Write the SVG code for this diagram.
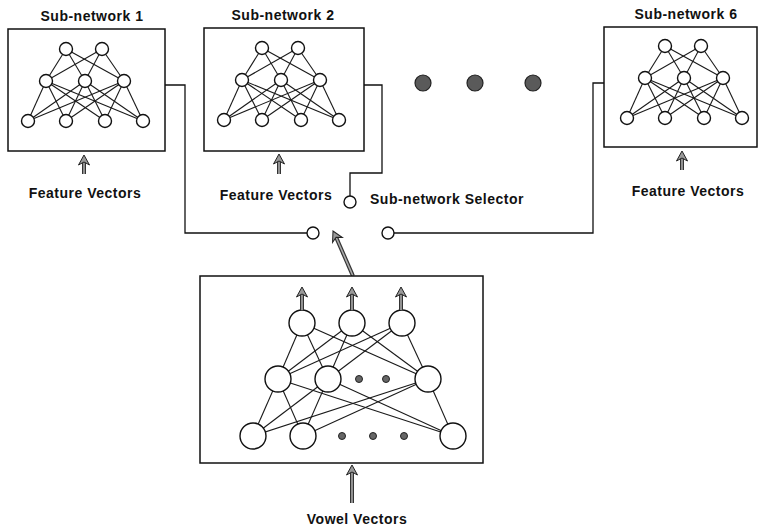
<svg xmlns="http://www.w3.org/2000/svg" width="761" height="529" viewBox="0 0 761 529">
  <style>
    .box { fill: #fff; stroke: #111; stroke-width: 1.5; }
    .edge { stroke: #1a1a1a; stroke-width: 1.1; fill: none; }
    .unit { fill: #fff; stroke: #111; stroke-width: 1.4; }
    .wire { fill: none; stroke: #111; stroke-width: 1.3; }
    .pin { fill: #fff; stroke: #111; stroke-width: 1.4; }
    .dot { fill: #666; stroke: #222; stroke-width: 1; }
    .big-dot { fill: #5a5a5a; stroke: #222; stroke-width: 1.2; }
    .shaft { stroke: #333; stroke-width: 4; }
    .shaft-in { stroke: #aaa; stroke-width: 1.6; }
    text { font-family: "Liberation Sans", Arial, sans-serif; font-size: 14px; font-weight: bold; letter-spacing: 0.5px; fill: #111; }
  </style>
  <defs>
    <marker id="head" viewBox="-11 -7 13 14" refX="0" refY="0" markerWidth="13" markerHeight="14" orient="auto" markerUnits="userSpaceOnUse">
      <path d="M0,0 L-10,-5.5 L-7,0 L-10,5.5 Z" fill="#999" stroke="#222" stroke-width="1"/>
    </marker>
    <!-- small 2-3-4 feed-forward net, drawn at the first sub-network's position -->
    <g id="smallnet">
      <g class="edge">
        <line x1="66" y1="49" x2="46" y2="81"/><line x1="66" y1="49" x2="85" y2="81"/><line x1="66" y1="49" x2="124" y2="81"/>
        <line x1="102" y1="49" x2="46" y2="81"/><line x1="102" y1="49" x2="85" y2="81"/><line x1="102" y1="49" x2="124" y2="81"/>
        <line x1="46" y1="81" x2="28" y2="121"/><line x1="46" y1="81" x2="66" y2="121"/><line x1="46" y1="81" x2="105" y2="121"/><line x1="46" y1="81" x2="143" y2="121"/>
        <line x1="85" y1="81" x2="28" y2="121"/><line x1="85" y1="81" x2="66" y2="121"/><line x1="85" y1="81" x2="105" y2="121"/><line x1="85" y1="81" x2="143" y2="121"/>
        <line x1="124" y1="81" x2="28" y2="121"/><line x1="124" y1="81" x2="66" y2="121"/><line x1="124" y1="81" x2="105" y2="121"/><line x1="124" y1="81" x2="143" y2="121"/>
      </g>
      <g class="unit">
        <circle cx="66" cy="49" r="6.5"/><circle cx="102" cy="49" r="6.5"/>
        <circle cx="46" cy="81" r="6.5"/><circle cx="85" cy="81" r="6.5"/><circle cx="124" cy="81" r="6.5"/>
        <circle cx="28" cy="121" r="6.5"/><circle cx="66" cy="121" r="6.5"/><circle cx="105" cy="121" r="6.5"/><circle cx="143" cy="121" r="6.5"/>
      </g>
    </g>
  </defs>

  <rect width="761" height="529" fill="#fff"/>

  <!-- connectors: sub-network outputs routed to the selector contacts -->
  <g id="connectors">
    <path class="wire" d="M165,85 H185 V233 H307"/>
    <path class="wire" d="M364,85 H382 V173 H350 V196"/>
    <path class="wire" d="M604,83 H593 V233 H394"/>
    <circle class="pin" cx="313" cy="233" r="6"/>
    <circle class="pin" cx="350" cy="202" r="6"/>
    <circle class="pin" cx="388" cy="233" r="6"/>
    <!-- selector arm driven by the vowel classifier -->
    <line class="shaft" x1="353" y1="276" x2="336" y2="237"/>
    <line class="shaft-in" x1="353" y1="276" x2="336" y2="237"/>
    <line x1="336" y1="237" x2="333" y2="231" stroke="none" marker-end="url(#head)"/>
  </g>

  <g id="subnet1">
    <text x="92" y="21" text-anchor="middle">Sub-network 1</text>
    <rect class="box" x="8" y="29" width="157" height="122"/>
    <use href="#smallnet"/>
    <line class="shaft" x1="84" y1="174" x2="84" y2="161"/>
    <line class="shaft-in" x1="84" y1="174" x2="84" y2="161"/>
    <line x1="84" y1="161" x2="84" y2="155" stroke="none" marker-end="url(#head)"/>
    <text x="85" y="198" text-anchor="middle">Feature Vectors</text>
  </g>

  <g id="subnet2">
    <text x="283" y="20" text-anchor="middle">Sub-network 2</text>
    <rect class="box" x="204" y="28" width="160" height="123"/>
    <use href="#smallnet" transform="translate(196,-1)"/>
    <line class="shaft" x1="279" y1="174" x2="279" y2="160"/>
    <line class="shaft-in" x1="279" y1="174" x2="279" y2="160"/>
    <line x1="279" y1="160" x2="279" y2="154" stroke="none" marker-end="url(#head)"/>
    <text x="276" y="200" text-anchor="middle">Feature Vectors</text>
  </g>

  <g id="ellipsis">
    <circle class="big-dot" cx="423" cy="83" r="8"/>
    <circle class="big-dot" cx="475" cy="83" r="8"/>
    <circle class="big-dot" cx="533" cy="83" r="8"/>
  </g>

  <g id="subnet6">
    <text x="686" y="19" text-anchor="middle">Sub-network 6</text>
    <rect class="box" x="604" y="27" width="153" height="120"/>
    <use href="#smallnet" transform="translate(599,-3)"/>
    <line class="shaft" x1="682" y1="170" x2="682" y2="157"/>
    <line class="shaft-in" x1="682" y1="170" x2="682" y2="157"/>
    <line x1="682" y1="157" x2="682" y2="151" stroke="none" marker-end="url(#head)"/>
    <text x="688" y="196" text-anchor="middle">Feature Vectors</text>
  </g>

  <g id="selector-label">
    <text x="370" y="204">Sub-network Selector</text>
  </g>

  <g id="vowel-net">
    <rect class="box" x="200" y="276" width="283" height="187"/>
    <g class="edge">
      <line x1="302" y1="323" x2="278" y2="379"/><line x1="302" y1="323" x2="328" y2="379"/><line x1="302" y1="323" x2="428" y2="379"/>
      <line x1="352" y1="323" x2="278" y2="379"/><line x1="352" y1="323" x2="328" y2="379"/><line x1="352" y1="323" x2="428" y2="379"/>
      <line x1="402" y1="323" x2="278" y2="379"/><line x1="402" y1="323" x2="328" y2="379"/><line x1="402" y1="323" x2="428" y2="379"/>
      <line x1="278" y1="379" x2="253" y2="436"/><line x1="278" y1="379" x2="303" y2="436"/><line x1="278" y1="379" x2="453" y2="436"/>
      <line x1="328" y1="379" x2="253" y2="436"/><line x1="328" y1="379" x2="303" y2="436"/><line x1="328" y1="379" x2="453" y2="436"/>
      <line x1="428" y1="379" x2="253" y2="436"/><line x1="428" y1="379" x2="303" y2="436"/><line x1="428" y1="379" x2="453" y2="436"/>
    </g>
    <g class="unit">
      <circle cx="302" cy="323" r="13"/><circle cx="352" cy="323" r="13"/><circle cx="402" cy="323" r="13"/>
      <circle cx="278" cy="379" r="13"/><circle cx="328" cy="379" r="13"/><circle cx="428" cy="379" r="13"/>
      <circle cx="253" cy="436" r="13"/><circle cx="303" cy="436" r="13"/><circle cx="453" cy="436" r="13"/>
    </g>
    <circle class="dot" cx="359" cy="379" r="3.5"/><circle class="dot" cx="386" cy="379" r="3.5"/>
    <circle class="dot" cx="342" cy="436" r="3.5"/><circle class="dot" cx="373" cy="436" r="3.5"/><circle class="dot" cx="404" cy="436" r="3.5"/>
    <!-- output arrows -->
    <g>
      <line class="shaft" x1="302" y1="310" x2="302" y2="293"/><line class="shaft-in" x1="302" y1="310" x2="302" y2="293"/>
      <line x1="302" y1="293" x2="302" y2="287" stroke="none" marker-end="url(#head)"/>
      <line class="shaft" x1="352" y1="310" x2="352" y2="293"/><line class="shaft-in" x1="352" y1="310" x2="352" y2="293"/>
      <line x1="352" y1="293" x2="352" y2="287" stroke="none" marker-end="url(#head)"/>
      <line class="shaft" x1="401" y1="310" x2="401" y2="293"/><line class="shaft-in" x1="401" y1="310" x2="401" y2="293"/>
      <line x1="401" y1="293" x2="401" y2="287" stroke="none" marker-end="url(#head)"/>
    </g>
    <!-- input arrow -->
    <line class="shaft" x1="352" y1="503" x2="352" y2="471"/><line class="shaft-in" x1="352" y1="503" x2="352" y2="471"/>
    <line x1="352" y1="471" x2="352" y2="465" stroke="none" marker-end="url(#head)"/>
    <text x="357" y="524" text-anchor="middle">Vowel Vectors</text>
  </g>
</svg>
